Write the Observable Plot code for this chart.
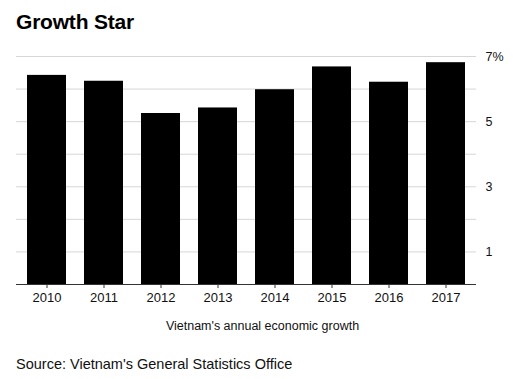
<!DOCTYPE html>
<html><head><meta charset="utf-8">
<script src="https://cdn.jsdelivr.net/npm/d3@7"></script>
<script src="https://cdn.jsdelivr.net/npm/@observablehq/plot@0.6"></script>
<style>
body{margin:0;background:#fff;font-family:"Liberation Sans",Arial,sans-serif;}
#wrap{position:relative;width:513px;height:379px;}
#title{position:absolute;left:16px;top:10px;font-size:21px;font-weight:bold;color:#000;letter-spacing:-0.2px;}
#chart{position:absolute;left:0;top:40px;}
#sub{position:absolute;left:0;width:525px;top:319px;text-align:center;font-size:12.5px;color:#111;}
#src{position:absolute;left:16px;top:356px;font-size:14.5px;color:#111;}
</style></head>
<body><div id="wrap">
<div id="title">Growth Star</div>
<div id="chart"></div>
<div id="sub">Vietnam's annual economic growth</div>
<div id="src">Source: Vietnam's General Statistics Office</div>
</div>
<script>
const years = ["2010","2011","2012","2013","2014","2015","2016","2017"];
const growth = [6.42, 6.24, 5.25, 5.42, 5.98, 6.68, 6.21, 6.81];
const gridValues = [1,2,3,4,5,6,7];
const tickValues = [1,3,5,7];
const data = years.map((y,i)=>({year:y, value:growth[i]}));
const chart = Plot.plot({
  width: 513, height: 270,
  marginTop: 16, marginBottom: 26, marginLeft: 16, marginRight: 37,
  style: {fontFamily: '"Liberation Sans",Arial,sans-serif', fontSize: "12px", color: "#111", background: "#fff"},
  x: {domain: years, paddingInner: 0.316, paddingOuter: 0.175, label: null},
  y: {domain: [0,7], label: null},
  marks: [
    Plot.ruleY(gridValues, {stroke: "#d6d6d6", strokeWidth: 1}),
    Plot.barY(data, {x: "year", y: "value", fill: "#000"}),
    Plot.ruleY([0], {stroke: "#333", strokeWidth: 1.2}),
    Plot.axisX({tickSize: 4, tickPadding: 4, fontSize: 13, stroke: "#333"}),
    Plot.axisY({anchor: "right", ticks: tickValues, tickSize: 0, tickPadding: 9, fontSize: 12.5,
      tickFormat: d => d === 7 ? "7%" : String(d)})
  ]
});
document.getElementById("chart").appendChild(chart);
</script>
</body></html>
